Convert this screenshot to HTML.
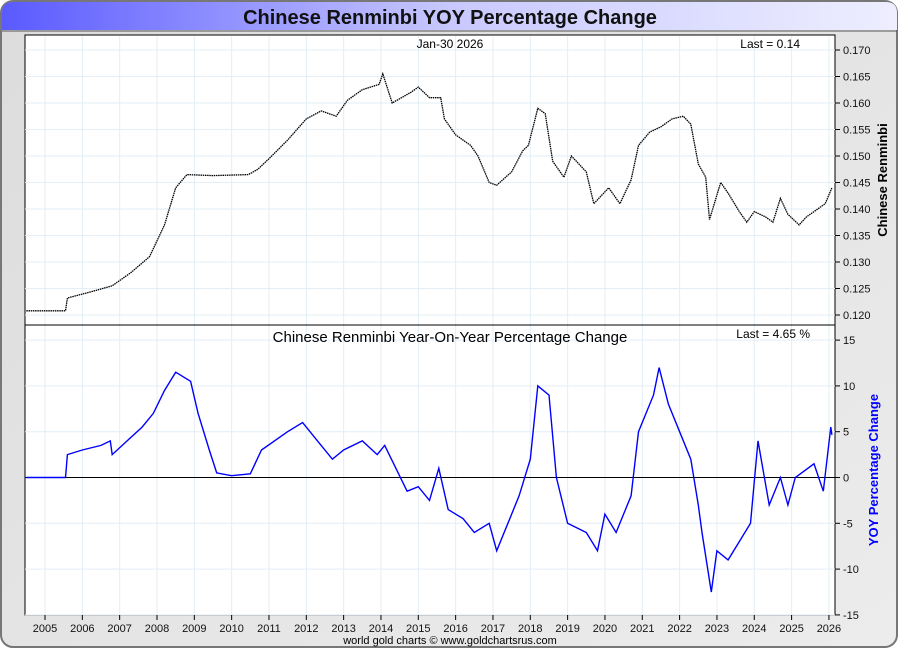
<!DOCTYPE html>
<html><head><meta charset="utf-8"><style>
body{margin:0;width:900px;height:650px;overflow:hidden;font-family:"Liberation Sans",sans-serif;background:#fff}
</style></head><body>
<svg width="900" height="650" font-family="Liberation Sans, sans-serif">
<defs>
<linearGradient id="tg" x1="0" x2="1"><stop offset="0" stop-color="#5a5aff"/><stop offset="0.5" stop-color="#c8c8ff"/><stop offset="1" stop-color="#eeeeff"/></linearGradient>
<linearGradient id="bg" x1="0" x2="1" y1="0" y2="1"><stop offset="0" stop-color="#dcdcdc"/><stop offset="1" stop-color="#ececec"/></linearGradient>
</defs>
<rect x="1" y="1" width="896" height="646" rx="12" fill="url(#bg)" stroke="#777" stroke-width="2"/>
<path d="M2 30 V13 Q2 2 13 2 H886 Q897 2 897 13 V30 Z" fill="url(#tg)"/>
<line x1="2" y1="31" x2="897" y2="31" stroke="#555"/>
<text x="450" y="24" text-anchor="middle" font-size="20" font-weight="bold" fill="#111">Chinese Renminbi YOY Percentage Change</text>
<rect x="25" y="35" width="810" height="580" fill="#fff" stroke="#000"/>
<g id="grid"></g>
<line x1="25" y1="325" x2="835" y2="325" stroke="#000"/>
<line x1="25" y1="477.5" x2="835" y2="477.5" stroke="#000"/>
<g id="axes" font-size="11" fill="#111"></g>
<polyline id="rate" fill="none" stroke="#000" stroke-width="1.3" stroke-dasharray="1.5 0.7"/>
<polyline id="yoy" fill="none" stroke="#0000ff" stroke-width="1.4"/>
<text x="450" y="48" text-anchor="middle" font-size="12">Jan-30  2026</text>
<text x="800" y="48" text-anchor="end" font-size="12">Last = 0.14</text>
<text x="450" y="342" text-anchor="middle" font-size="15">Chinese Renminbi Year-On-Year Percentage Change</text>
<text x="810" y="338" text-anchor="end" font-size="12">Last = 4.65 %</text>
<text transform="translate(887,180) rotate(-90)" text-anchor="middle" font-size="13" font-weight="bold">Chinese Renminbi</text>
<text transform="translate(878,470) rotate(-90)" text-anchor="middle" font-size="13" font-weight="bold" fill="#0000ff">YOY Percentage Change</text>
<text x="450" y="644" text-anchor="middle" font-size="11">world gold charts © www.goldchartsrus.com</text>
</svg>
<script>
const years=[2005,2006,2007,2008,2009,2010,2011,2012,2013,2014,2015,2016,2017,2018,2019,2020,2021,2022,2023,2024,2025,2026];
const rateTicks=[0.120,0.125,0.130,0.135,0.140,0.145,0.150,0.155,0.160,0.165,0.170];
const yoyTicks=[-15,-10,-5,0,5,10,15];
const rateDates=[2004.5,2005.55,2005.6,2006.3,2006.8,2007.3,2007.8,2008.2,2008.5,2008.8,2009.5,2010.45,2010.7,2011.0,2011.5,2012.0,2012.4,2012.8,2013.1,2013.5,2013.95,2014.05,2014.3,2014.8,2015.0,2015.3,2015.6,2015.7,2016.0,2016.4,2016.6,2016.9,2017.1,2017.5,2017.8,2017.95,2018.2,2018.4,2018.6,2018.9,2019.1,2019.5,2019.7,2019.9,2020.1,2020.4,2020.7,2020.9,2021.2,2021.5,2021.8,2022.1,2022.3,2022.5,2022.7,2022.8,2023.1,2023.3,2023.6,2023.8,2024.0,2024.3,2024.5,2024.7,2024.9,2025.2,2025.4,2025.6,2025.9,2026.08];
const rateValues=[0.1208,0.1208,0.1232,0.1245,0.1255,0.1280,0.1310,0.1370,0.1440,0.1465,0.1463,0.1465,0.1475,0.1495,0.1530,0.1570,0.1585,0.1575,0.1605,0.1625,0.1635,0.1655,0.1600,0.1620,0.1630,0.1610,0.1610,0.1570,0.1540,0.1520,0.1500,0.1450,0.1445,0.1470,0.1510,0.1520,0.1590,0.1580,0.1490,0.1460,0.1500,0.1470,0.1410,0.1425,0.1440,0.1410,0.1455,0.1520,0.1545,0.1555,0.1570,0.1575,0.1560,0.1485,0.1460,0.1380,0.1450,0.1430,0.1395,0.1375,0.1395,0.1385,0.1375,0.1420,0.1390,0.1370,0.1385,0.1395,0.1410,0.1440];
const yoyDates=[2004.5,2005.55,2005.6,2006.0,2006.5,2006.75,2006.8,2007.2,2007.6,2007.9,2008.2,2008.5,2008.9,2009.1,2009.4,2009.6,2010.0,2010.5,2010.8,2011.5,2011.9,2012.3,2012.7,2013.0,2013.5,2013.9,2014.1,2014.4,2014.7,2015.0,2015.3,2015.55,2015.8,2016.2,2016.5,2016.9,2017.1,2017.4,2017.7,2018.0,2018.2,2018.5,2018.7,2019.0,2019.5,2019.8,2020.0,2020.3,2020.7,2020.9,2021.3,2021.45,2021.7,2022.0,2022.3,2022.5,2022.6,2022.85,2023.0,2023.3,2023.6,2023.9,2024.1,2024.4,2024.7,2024.9,2025.1,2025.6,2025.85,2026.05,2026.08];
const yoyValues=[0,0,2.5,3,3.5,4,2.5,4,5.5,7,9.5,11.5,10.5,7,3,0.5,0.2,0.4,3,5,6,4,2,3,4,2.5,3.5,1,-1.5,-1,-2.5,1,-3.5,-4.5,-6,-5,-8,-5,-2,2,10,9,0,-5,-6,-8,-4,-6,-2,5,9,12,8,5,2,-3,-6,-12.5,-8,-9,-7,-5,4,-3,0,-3,0,1.5,-1.5,5.5,4.65];
const X=y=>45+(y-2005)*37.33;
const YR=v=>315-(v-0.120)/0.005*26.5;
const YY=v=>477.5-v/5*45.8;
const NS='http://www.w3.org/2000/svg';
const grid=document.getElementById('grid'),axes=document.getElementById('axes');
function mk(tag,attrs,parent){const e=document.createElementNS(NS,tag);for(const k in attrs)e.setAttribute(k,attrs[k]);parent.appendChild(e);return e;}
years.forEach(y=>{
 const l=mk('line',{x1:X(y),x2:X(y),y1:36,y2:615,stroke:'#e3eef6'},grid);
 
 
 mk('line',{x1:X(y),x2:X(y),y1:615,y2:620,stroke:'#000'},axes);
 const t=mk('text',{x:X(y),y:632,'text-anchor':'middle'},axes);t.textContent=y;
 
 
});
rateTicks.forEach(v=>{
 const l=mk('line',{x1:25,x2:835,y1:YR(v),y2:YR(v),stroke:'#e3eef6'},grid);
 
 
 mk('line',{x1:835,x2:840,y1:YR(v),y2:YR(v),stroke:'#000'},axes);
 const t=mk('text',{x:843,y:YR(v)+4},axes);t.textContent=v.toFixed(3);
 
 
});
yoyTicks.forEach(v=>{
 const l=mk('line',{x1:25,x2:835,y1:YY(v),y2:YY(v),stroke:'#e3eef6'},grid);
 
 
 mk('line',{x1:835,x2:840,y1:YY(v),y2:YY(v),stroke:'#000'},axes);
 const t=mk('text',{x:843,y:YY(v)+4},axes);t.textContent=v;
 
 
});
document.getElementById('rate').setAttribute('points',rateDates.map((d,i)=>X(d).toFixed(1)+','+YR(rateValues[i]).toFixed(1)).join(' '));
document.getElementById('yoy').setAttribute('points',yoyDates.map((d,i)=>X(d).toFixed(1)+','+YY(yoyValues[i]).toFixed(1)).join(' '));
</script>
</body></html>
